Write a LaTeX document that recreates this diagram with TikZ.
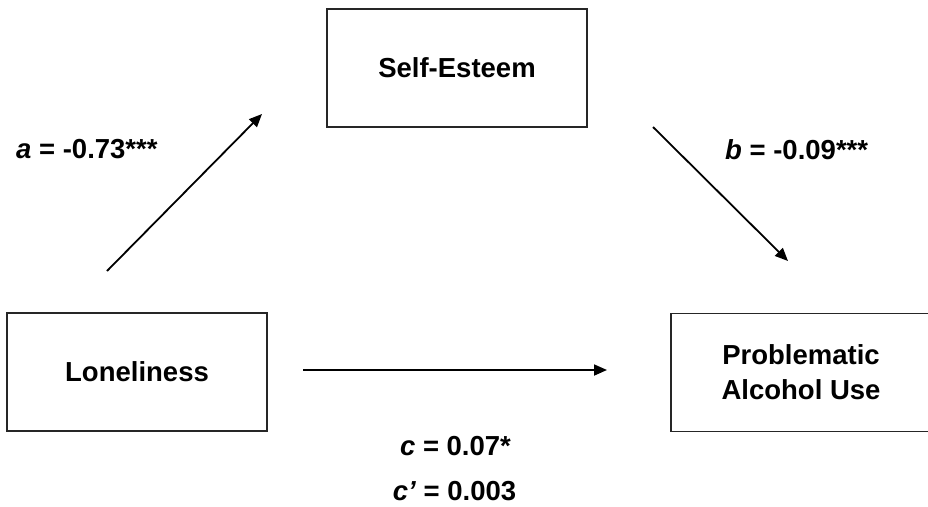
\documentclass[tikz,border=0pt]{standalone}
\usepackage{fontspec}
\setmainfont{Liberation Sans}
\usetikzlibrary{arrows.meta}
\begin{document}
\begin{tikzpicture}[x=1pt,y=-1pt,
  varbox/.style={draw=black!85,line width=1.1pt,minimum width=260pt,minimum height=118pt,
    inner sep=0pt,align=center,font=\fontsize{27.5}{35}\selectfont\bfseries},
  path/.style={line width=1.8pt,-{Triangle[length=13pt,width=11pt]}},
  coef/.style={font=\fontsize{27.5}{33}\selectfont\bfseries,inner sep=0pt}]
\useasboundingbox (0,0) rectangle (928,506);
% variable boxes
\node[varbox] (se) at (457,68) {Self-Esteem};
\node[varbox] (lon) at (137,372) {Loneliness};
\node[varbox] (pau) at (801,372.5) {Problematic\\Alcohol Use};
% path arrows
\coordinate (a0) at (107,271);
\coordinate (a1) at (262,114);
\coordinate (b0) at (653,127);
\coordinate (b1) at (788,261);
\coordinate (c0) at (303,370);
\coordinate (c1) at (607,370);
\draw[path] (a0) -- (a1);
\draw[path] (b0) -- (b1);
\draw[path] (c0) -- (c1);
% path coefficients
\node[coef,anchor=base west] (la) at (16,158) {\textit{a} = -0.73***};
\node[coef,anchor=base west] (lb) at (725,159) {\textit{b} = -0.09***};
\node[coef,anchor=base] (lc) at (455.5,455) {\textit{c} = 0.07*};
\node[coef,anchor=base] (lcp) at (454.5,500) {\textit{c’} = 0.003};
\end{tikzpicture}
\end{document}
